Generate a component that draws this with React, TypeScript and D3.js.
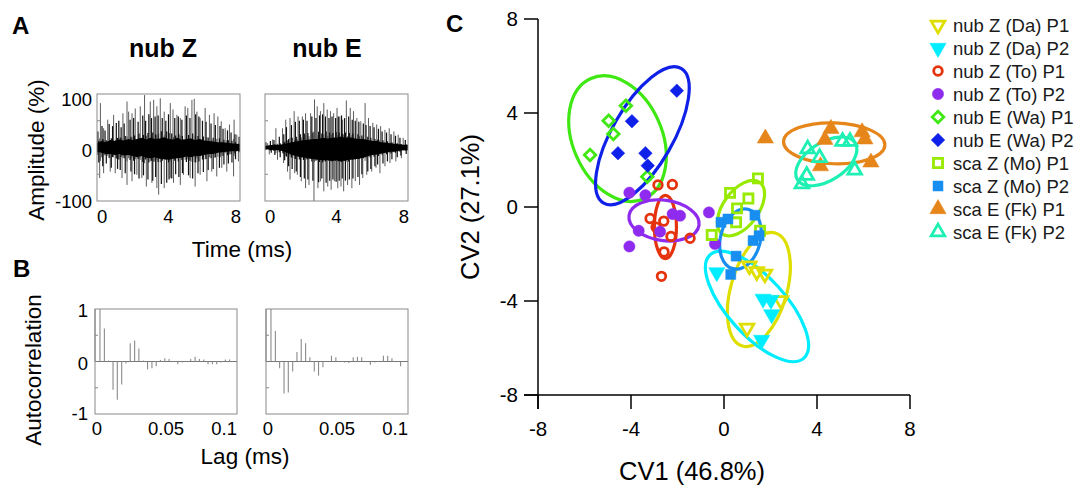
import React from "react";
import * as d3 from "d3";

const FONT = "'Liberation Sans', Arial, Helvetica, sans-serif";

// ---------------- Panel A : waveforms ----------------
const timeTicks = [0, 4, 8];
const ampTicks = [100, 0, -100];
const ampMinorTicks = [50, -50];
const coreTimes = [0, 0.25, 0.5, 0.75, 1, 1.25, 1.5, 1.75, 2, 2.25, 2.5, 2.75, 3, 3.25, 3.5, 3.75, 4, 4.25, 4.5, 4.75, 5, 5.25, 5.5, 5.75, 6, 6.25, 6.5, 6.75, 7, 7.25, 7.5, 7.75, 8];
const nubZCoreUp = [8, 12, 10, 14, 12, 15, 13, 16, 14, 16, 18, 15, 18, 16, 17, 19, 16, 15, 18, 14, 16, 17, 14, 16, 13, 12, 11, 10, 10, 9, 8, 7, 6];
const nubZCoreDown = [-8, -10, -12, -12, -14, -12, -15, -14, -16, -18, -16, -19, -20, -18, -21, -22, -23, -21, -20, -19, -17, -18, -16, -16, -14, -12, -12, -10, -9, -8, -7, -7, -6];
const nubECoreUp = [3, 4, 5, 5, 6, 8, 10, 11, 13, 14, 15, 16, 16, 18, 17, 18, 18, 20, 18, 19, 17, 16, 16, 14, 12, 12, 10, 9, 8, 7, 6, 5, 5];
const nubECoreDown = [-3, -4, -5, -5, -7, -10, -14, -16, -18, -19, -21, -22, -23, -24, -24, -25, -24, -26, -24, -23, -22, -21, -19, -16, -14, -13, -11, -10, -8, -8, -6, -5, -5];
const nubZSpikes: [number, number][] = [
  [0.19, 83], [0.37, 36], [0.6, 52], [0.93, 61], [1.45, 64], [1.68, 86], [1.77, 67], [1.96, 64], [2.14, 73], [2.42, 77],
  [2.66, 98], [2.98, 86], [3.17, 89], [3.35, 77], [3.54, 92], [3.76, 67], [4.1, 83], [4.25, 71], [4.47, 61], [4.66, 55],
  [4.93, 77], [5.08, 74], [5.31, 89], [5.44, 91], [5.59, 67], [5.77, 55], [6.05, 74], [6.29, 61], [6.55, 64], [6.76, 58],
  [6.95, 49], [7.17, 36], [7.41, 43], [7.67, 52], [7.82, 24],
  [0.15, -57], [0.37, -48], [0.74, -45], [1.02, -48], [1.4, -57], [1.68, -70], [1.96, -63], [2.23, -51], [2.51, -57], [2.76, -73],
  [3.07, -66], [3.35, -76], [3.45, -88], [3.76, -76], [4.1, -57], [4.28, -66], [4.66, -70], [4.84, -51], [5.21, -57], [5.49, -73],
  [5.77, -51], [6.15, -63], [6.42, -45], [6.7, -54], [6.98, -38], [7.26, -45], [7.64, -54], [7.91, -26],
];
const nubZMid: [number, number][] = [
  [0.05, 30], [0.1, -28], [0.28, 40], [0.32, -35], [0.45, 32], [0.52, -30], [0.68, 44], [0.8, -38], [0.87, 40], [1.08, 46],
  [1.15, -40], [1.22, 50], [1.3, -42], [1.35, 38], [1.52, 45], [1.58, -48], [1.85, 52], [1.9, -45], [2.05, 55], [2.1, -50],
  [2.3, 48], [2.35, -58], [2.56, 60], [2.6, -52], [2.72, 50], [2.85, -60], [2.9, 62], [3.05, 55], [3.12, -62], [3.25, 58],
  [3.28, -55], [3.42, 60], [3.6, -68], [3.65, 55], [3.85, 50], [3.9, -66], [4.0, 62], [4.03, -60], [4.18, -58], [4.35, 55],
  [4.4, -50], [4.55, 58], [4.58, -55], [4.75, 52], [4.78, -48], [5.0, 60], [5.12, -52], [5.2, 55], [5.35, -58], [5.52, 62],
  [5.65, -48], [5.7, 58], [5.9, 50], [5.95, -46], [6.1, 48], [6.22, -42], [6.38, 45], [6.5, -40], [6.62, 42], [6.85, -38],
  [6.88, 40], [7.05, 35], [7.1, -32], [7.3, 32], [7.35, -30], [7.5, 28], [7.55, -28], [7.72, 25], [7.75, -22], [7.95, 20],
];
const nubESpikes: [number, number][] = [
  [0.15, 8], [0.43, 15], [0.61, 36], [0.98, 36], [1.16, 52], [1.4, 55], [1.63, 68], [1.85, 58], [2.09, 58], [2.27, 64],
  [2.55, 64], [2.77, 90], [2.92, 77], [3.1, 68], [3.29, 83], [3.48, 71], [3.66, 68], [3.84, 64], [4.03, 74], [4.18, 58],
  [4.34, 52], [4.55, 88], [4.77, 74], [4.95, 68], [5.14, 55], [5.36, 49], [5.6, 83], [5.79, 55], [6.03, 46], [6.25, 43],
  [6.47, 40], [6.71, 33], [6.95, 36], [7.21, 30], [7.45, 24], [7.73, 18],
  [0.24, -13], [0.7, -23], [1.04, -29], [1.26, -45], [1.4, -60], [1.66, -48], [1.81, -51], [2.03, -63], [2.27, -76], [2.46, -70],
  [2.74, -100], [2.96, -76], [3.1, -63], [3.29, -82], [3.51, -73], [3.7, -79], [3.88, -63], [4.07, -76], [4.25, -73], [4.4, -82],
  [4.62, -70], [4.86, -76], [5.05, -63], [5.29, -70], [5.47, -57], [5.69, -51], [5.97, -45], [6.21, -38], [6.43, -48], [6.71, -35],
  [6.99, -29], [7.32, -26], [7.63, -20],
];
const nubEMid: [number, number][] = [
  [0.05, 10], [0.3, 12], [0.35, -10], [0.5, 14], [0.55, -14], [0.8, 20], [0.85, -18], [1.05, 25], [1.1, -24], [1.2, 38],
  [1.32, -35], [1.48, 42], [1.52, -40], [1.7, 48], [1.75, -45], [1.92, 50], [1.98, -55], [2.15, 52], [2.2, -58], [2.35, 50],
  [2.4, -60], [2.62, 58], [2.68, -62], [2.85, 55], [3.0, -65], [3.05, 60], [3.18, -58], [3.22, 62], [3.38, 58], [3.42, -66],
  [3.58, 55], [3.62, -62], [3.75, 58], [3.8, -60], [3.95, 55], [3.98, -64], [4.1, 58], [4.15, -62], [4.28, 60], [4.32, -58],
  [4.45, 55], [4.5, -62], [4.68, 58], [4.72, -60], [4.88, 52], [4.92, -58], [5.05, 50], [5.2, -55], [5.25, 48], [5.42, -50],
  [5.5, 45], [5.65, 42], [5.75, -45], [5.88, 40], [5.92, -40], [6.1, 38], [6.15, -35], [6.35, 35], [6.3, -32], [6.55, 30],
  [6.6, -30], [6.8, 28], [6.85, -26], [7.05, 25], [7.1, -22], [7.3, 22], [7.4, -18], [7.55, 18], [7.6, -15], [7.85, 14], [7.9, -12],
];

// ---------------- Panel B : autocorrelation ----------------
const lagTicks = [0, 0.05, 0.1];
const acTicks = [1, 0, -1];
const acMinorTicks = [0.5, -0.5];
const acLags = [0, 0.0035, 0.0066, 0.0096, 0.0127, 0.0157, 0.0188, 0.0218, 0.0248, 0.0279, 0.0309, 0.034, 0.037, 0.0401, 0.0431, 0.0461, 0.0492, 0.0522, 0.0553, 0.0583, 0.0614, 0.0644, 0.0674, 0.0705, 0.0735, 0.0766, 0.0796, 0.0827, 0.0857, 0.0887, 0.0918, 0.0948];
const acNubZ = [1, 1.0, 0.63, 0.02, -0.54, -0.73, -0.44, -0.04, 0.35, 0.4, 0.25, 0.02, -0.15, -0.13, -0.09, 0.03, 0.06, 0.05, 0.01, -0.05, -0.02, -0.01, 0.05, 0.09, 0.05, 0.04, -0.05, -0.05, -0.05, -0.02, 0.04, 0.04];
const acNubE = [1, 1.0, 0.58, -0.13, -0.61, -0.59, -0.19, 0.18, 0.43, 0.35, 0.08, -0.19, -0.27, -0.11, 0, 0.11, 0.08, 0, -0.02, -0.03, 0.08, 0.09, 0.08, 0, -0.06, -0.02, 0, 0.11, 0.11, 0.06, 0, -0.09];

// ---------------- Panel C : canonical variates ----------------
const cvTicks = [-8, -4, 0, 4, 8];
const groupNames = ["nub Z (Da) P1", "nub Z (Da) P2", "nub Z (To) P1", "nub Z (To) P2", "nub E (Wa) P1", "nub E (Wa) P2", "sca Z (Mo) P1", "sca Z (Mo) P2", "sca E (Fk) P1", "sca E (Fk) P2"];
const groupColors = ["#dede00", "#00ecff", "#e5330d", "#8f2bef", "#3fe812", "#0f20e8", "#97ea00", "#178ef0", "#e5851a", "#1ef0b4"];
const groupShapes = ["triDown", "triDown", "circle", "circle", "diamond", "diamond", "square", "square", "triUp", "triUp"];
const groupFilled = [false, true, false, true, false, true, false, true, true, false];

const daP1: [number, number][] = [[1.09, -2.5], [1.41, -2.75], [1.76, -2.85], [2.45, -3.98], [0.99, -5.15]];
const daP2: [number, number][] = [[-0.31, -2.78], [1.68, -3.91], [2.02, -3.96], [2.05, -4.57], [1.62, -5.66]];
const toP1: [number, number][] = [[-2.84, 0.94], [-2.22, 0.96], [-3.18, -0.49], [-2.59, -0.6], [-2.92, -0.86], [-2.28, -1.25], [-1.46, -1.33], [-2.58, -1.91], [-2.69, -2.95]];
const toP2: [number, number][] = [[-4.07, 0.61], [-3.38, 0.5], [-2.21, -0.3], [-1.89, -0.37], [-0.65, -0.23], [-3.67, -1.01], [-2.75, -1.05], [-4.07, -1.68], [-0.39, -1.57]];
const waP1: [number, number][] = [[-4.22, 4.31], [-4.96, 3.67], [-4.76, 3.11], [-5.76, 2.21], [-3.3, 1.29]];
const waP2: [number, number][] = [[-2.03, 4.95], [-3.96, 3.65], [-4.56, 2.29], [-3.38, 2.29], [-3.28, 1.76]];
const moP1: [number, number][] = [[1.46, 1.22], [0.26, 0.6], [1.05, 0.36], [0.56, -0.06], [0.52, -0.65], [-0.53, -1.19], [1.55, -1.01]];
const moP2: [number, number][] = [[-0.13, -0.65], [0.17, -0.51], [1.33, -0.35], [1.25, -1.43], [1.51, -1.22], [0.52, -2.09], [0.29, -2.87]];
const fkP1: [number, number][] = [[1.78, 2.92], [4.6, 3.33], [4.34, 2.86], [5.94, 3.19], [6.06, 2.88], [4.15, 1.74], [6.32, 1.9]];
const fkP2: [number, number][] = [[3.6, 2.47], [4.11, 2.1], [5.1, 2.79], [5.42, 2.79], [5.62, 1.57], [3.56, 1.34], [3.35, 0.98]];
const groupPoints = [daP1, daP2, toP1, toP2, waP1, waP2, moP1, moP2, fkP1, fkP2];

// confidence ellipses: centre, semi-axes (CV units), angle of major axis (deg, counter-clockwise)
const ellCx = [1.5, 1.42, -2.52, -2.58, -4.58, -3.51, 0.73, 0.71, 4.74, 4.4];
const ellCy = [-3.51, -4.23, -0.85, -0.57, 2.91, 3.03, -0.05, -1.36, 2.71, 1.94];
const ellA = [2.53, 3.0, 1.36, 1.52, 2.83, 3.34, 1.37, 1.32, 2.18, 1.47];
const ellB = [1.19, 1.23, 0.47, 0.86, 1.9, 1.29, 0.75, 0.85, 0.87, 0.81];
const ellAngle = [73.8, -47.8, 90, -8, -66.1, 60.1, 53.8, 75.5, -2, 32.6];

// ---------------- helpers ----------------
function symbolPath(shape: string, filled: boolean): { d: string; rot: number } {
  let type: d3.SymbolType = d3.symbolCircle;
  let size = 90;
  let rot = 0;
  if (shape === "circle") { type = d3.symbolCircle; size = filled ? 100 : 58; }
  if (shape === "square") { type = d3.symbolSquare; size = filled ? 100 : 82; }
  if (shape === "diamond") { type = d3.symbolSquare; size = filled ? 92 : 66; rot = 45; }
  if (shape === "triUp") { type = d3.symbolTriangle; size = filled ? 115 : 80; }
  if (shape === "triDown") { type = d3.symbolTriangle; size = filled ? 115 : 80; rot = 180; }
  return { d: d3.symbol(type, size)() as string, rot };
}

function Marker({ x, y, gi }: { x: number; y: number; gi: number }) {
  const filled = groupFilled[gi];
  const { d, rot } = symbolPath(groupShapes[gi], filled);
  const c = groupColors[gi];
  return (
    <path
      d={d}
      transform={`translate(${x},${y}) rotate(${rot})`}
      fill={filled ? c : "none"}
      stroke={c}
      strokeWidth={filled ? 0.5 : 2.8}
      strokeLinejoin="miter"
    />
  );
}

function WavePanel({ x0, x1, up, down, spikes, mids, labels }: { x0: number; x1: number; up: number[]; down: number[]; spikes: [number, number][]; mids: [number, number][]; labels: boolean }) {
  const x = d3.scaleLinear().domain([0, 8]).range([x0, x1]);
  const y = d3.scaleLinear().domain([-100, 100]).range([201, 94]);
  const area = d3
    .area<number>()
    .x((_, i) => x(coreTimes[i]))
    .y0((_, i) => y(down[i]))
    .y1((d) => y(d));
  return (
    <g>
      {spikes.map(([t, a], i) => (
        <line key={i} x1={x(t)} x2={x(t)} y1={y(-0.3 * a)} y2={y(a)} stroke="#4a4a4a" strokeWidth={0.9} />
      ))}
      {mids.map(([t, a], i) => (
        <line key={"m" + i} x1={x(t)} x2={x(t)} y1={y(-0.45 * a)} y2={y(a)} stroke="#111" strokeWidth={1.2} />
      ))}
      <path d={area(up) as string} fill="#000" />
      <rect x={x0} y={94} width={x1 - x0} height={201 - 94} fill="none" stroke="#8a8a8a" strokeWidth={1} />
      {ampMinorTicks.map((v) => (
        <line key={v} x1={x0} x2={x0 + 3} y1={y(v)} y2={y(v)} stroke="#8a8a8a" />
      ))}
      {labels &&
        ampTicks.map((v) => (
          <text key={v} x={92} y={y(v) + (v === 100 ? 12 : v === 0 ? 9 : 7)} textAnchor="end" fontSize={18.5} fontFamily={FONT}>
            {v}
          </text>
        ))}
      {timeTicks.map((v, i) => (
        <text key={v} x={x(v) + (i === 2 ? 1 : 0)} y={223} textAnchor={i === 0 ? "start" : i === 2 ? "end" : "middle"} fontSize={18.5} fontFamily={FONT}>
          {v}
        </text>
      ))}
    </g>
  );
}

function AcPanel({ x0, x1, vals, labels }: { x0: number; x1: number; vals: number[]; labels: boolean }) {
  const x = d3.scaleLinear().domain([0, 0.1]).range([x0, x1]);
  const y = d3.scaleLinear().domain([-1, 1]).range([414, 309]);
  return (
    <g>
      <line x1={x0} x2={x1} y1={y(0)} y2={y(0)} stroke="#777" strokeWidth={1} />
      {vals.map((v, i) => (
        <line key={i} x1={x(acLags[i])} x2={x(acLags[i])} y1={y(0)} y2={y(v)} stroke="#8a8a8a" strokeWidth={1.1} />
      ))}
      <rect x={x0} y={309} width={x1 - x0} height={414 - 309} fill="none" stroke="#8a8a8a" strokeWidth={1} />
      {acMinorTicks.map((v) => (
        <line key={v} x1={x0} x2={x0 + 3} y1={y(v)} y2={y(v)} stroke="#8a8a8a" />
      ))}
      {labels &&
        acTicks.map((v) => (
          <text key={v} x={88} y={y(v) + (v === 1 ? 8 : v === 0 ? 8 : 6)} textAnchor="end" fontSize={18.5} fontFamily={FONT}>
            {v}
          </text>
        ))}
      {lagTicks.map((v, i) => (
        <text key={v} x={x(v) + (i === 0 ? 2 : 0)} y={435} textAnchor={i === 2 ? "end" : "middle"} fontSize={18.5} fontFamily={FONT}>
          {v}
        </text>
      ))}
    </g>
  );
}

export default function App() {
  const xC = d3.scaleLinear().domain([-8, 8]).range([538, 910]);
  const yC = d3.scaleLinear().domain([-8, 8]).range([395, 19]);
  const kx = xC(1) - xC(0);
  const ky = yC(0) - yC(1);
  const tick = 14;

  return (
    <svg width={1079} height={488} style={{ position: "absolute", left: 0, top: 0, background: "#fff" }} fontFamily={FONT}>
      <rect x={0} y={0} width={1079} height={488} fill="#fff" />
      {/* Panel A */}
      <text x={12} y={34} fontSize={24} fontWeight="bold">A</text>
      <text x={163} y={57} fontSize={25} fontWeight="bold" textAnchor="middle">nub Z</text>
      <text x={327} y={57} fontSize={25} fontWeight="bold" textAnchor="middle">nub E</text>
      <WavePanel x0={97} x1={240} up={nubZCoreUp} down={nubZCoreDown} spikes={nubZSpikes} mids={nubZMid} labels={true} />
      <WavePanel x0={265} x1={408} up={nubECoreUp} down={nubECoreDown} spikes={nubESpikes} mids={nubEMid} labels={false} />
      <text transform="translate(44,150) rotate(-90)" textAnchor="middle" fontSize={22.5}>Amplitude (%)</text>
      <text x={242} y={257} textAnchor="middle" fontSize={22.5}>Time (ms)</text>

      {/* Panel B */}
      <text x={13} y={277} fontSize={24} fontWeight="bold">B</text>
      <AcPanel x0={95} x1={237} vals={acNubZ} labels={true} />
      <AcPanel x0={266} x1={408} vals={acNubE} labels={false} />
      <text transform="translate(41,370) rotate(-90)" textAnchor="middle" fontSize={22.5}>Autocorrelation</text>
      <text x={245} y={464} textAnchor="middle" fontSize={22.5}>Lag (ms)</text>

      {/* Panel C */}
      <text x={446} y={32} fontSize={24} fontWeight="bold">C</text>
      {groupNames.map((g, i) => (
        <ellipse
          key={g}
          cx={0}
          cy={0}
          rx={ellA[i] * kx}
          ry={ellB[i] * ky}
          transform={`translate(${xC(ellCx[i])},${yC(ellCy[i])}) rotate(${-ellAngle[i]})`}
          fill="none"
          stroke={groupColors[i]}
          strokeWidth={3.2}
        />
      ))}
      {groupPoints.map((pts, gi) => (
        <g key={gi}>
          {pts.map(([vx, vy], j) => (
            <Marker key={j} x={xC(vx)} y={yC(vy)} gi={gi} />
          ))}
        </g>
      ))}
      <line x1={xC(-8)} x2={xC(-8)} y1={yC(8)} y2={yC(-8) + tick} stroke="#000" strokeWidth={1.5} />
      <line x1={xC(-8) - tick} x2={xC(8)} y1={yC(-8)} y2={yC(-8)} stroke="#000" strokeWidth={1.5} />
      {cvTicks.map((v) => (
        <g key={"y" + v}>
          <line x1={xC(-8) - tick} x2={xC(-8)} y1={yC(v)} y2={yC(v)} stroke="#000" strokeWidth={1.5} />
          <text x={xC(-8) - tick - 6} y={yC(v) + 7} textAnchor="end" fontSize={20.5}>{v}</text>
        </g>
      ))}
      {cvTicks.map((v) => (
        <g key={"x" + v}>
          <line x1={xC(v)} x2={xC(v)} y1={yC(-8)} y2={yC(-8) + tick} stroke="#000" strokeWidth={1.5} />
          <text x={xC(v)} y={yC(-8) + tick + 27} textAnchor="middle" fontSize={20.5}>{v}</text>
        </g>
      ))}
      <text x={692} y={480} textAnchor="middle" fontSize={25.5}>CV1 (46.8%)</text>
      <text transform="translate(479,207) rotate(-90)" textAnchor="middle" fontSize={25.5}>CV2 (27.1%)</text>

      {groupNames.map((g, i) => (
        <g key={"leg" + g}>
          <Marker x={938} y={25 + 23 * i} gi={i} />
          <text x={953} y={25 + 23 * i + 6.5} fontSize={18.5} fill="#1a1a1a">{g}</text>
        </g>
      ))}
    </svg>
  );
}
